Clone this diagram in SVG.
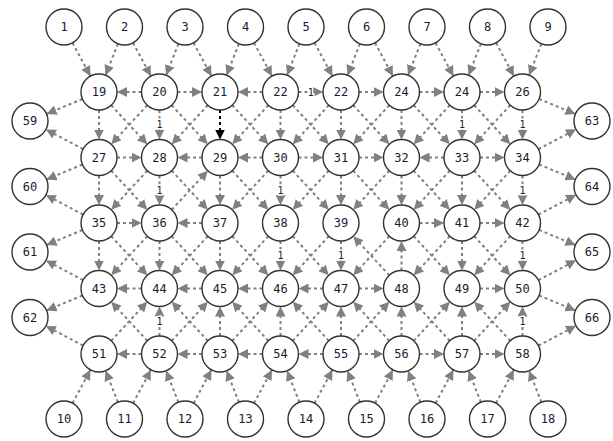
<svg xmlns="http://www.w3.org/2000/svg" width="613" height="441" viewBox="0 0 613 441">
<style>
.e{stroke:#808080;stroke-width:2;stroke-dasharray:3 3;fill:none;marker-end:url(#a)}
.k{stroke:#000;marker-end:url(#ak)}
.n circle{fill:#fff;stroke:#333;stroke-width:1.4}
.n text{font-family:"DejaVu Sans Mono","Liberation Mono",monospace;font-size:12px;text-anchor:middle;fill:#1a1a33}
.l{font-family:"DejaVu Sans Mono","Liberation Mono",monospace;font-size:10px;text-anchor:middle;fill:#222;paint-order:stroke;stroke:#fff;stroke-width:3}
</style>
<defs>
<marker id="a" markerUnits="userSpaceOnUse" markerWidth="10" markerHeight="10" refX="10" refY="5" orient="auto" viewBox="0 0 10 10"><path d="M0,0 L10,5 L0,10 z" fill="#808080"/></marker>
<marker id="ak" markerUnits="userSpaceOnUse" markerWidth="10" markerHeight="10" refX="10" refY="5" orient="auto" viewBox="0 0 10 10"><path d="M0,0 L10,5 L0,10 z" fill="#000"/></marker>
</defs>
<g id="connectors">
<!-- top -->
<line class="e" x1="72.53" y1="42.85" x2="90.47" y2="76.15"/>
<line class="e" x1="133.03" y1="42.85" x2="150.97" y2="76.15"/>
<line class="e" x1="193.53" y1="42.85" x2="211.47" y2="76.15"/>
<line class="e" x1="254.03" y1="42.85" x2="271.97" y2="76.15"/>
<line class="e" x1="314.53" y1="42.85" x2="332.47" y2="76.15"/>
<line class="e" x1="375.03" y1="42.85" x2="392.97" y2="76.15"/>
<line class="e" x1="435.53" y1="42.85" x2="453.47" y2="76.15"/>
<line class="e" x1="496.03" y1="42.85" x2="513.97" y2="76.15"/>
<line class="e" x1="117.93" y1="43.76" x2="105.57" y2="75.24"/>
<line class="e" x1="178.43" y1="43.76" x2="166.07" y2="75.24"/>
<line class="e" x1="238.93" y1="43.76" x2="226.57" y2="75.24"/>
<line class="e" x1="299.43" y1="43.76" x2="287.07" y2="75.24"/>
<line class="e" x1="359.93" y1="43.76" x2="347.57" y2="75.24"/>
<line class="e" x1="420.43" y1="43.76" x2="408.07" y2="75.24"/>
<line class="e" x1="480.93" y1="43.76" x2="468.57" y2="75.24"/>
<line class="e" x1="541.43" y1="43.76" x2="529.07" y2="75.24"/>
<!-- bottom -->
<line class="e" x1="72.53" y1="403.15" x2="90.47" y2="369.85"/>
<line class="e" x1="133.03" y1="403.15" x2="150.97" y2="369.85"/>
<line class="e" x1="193.53" y1="403.15" x2="211.47" y2="369.85"/>
<line class="e" x1="254.03" y1="403.15" x2="271.97" y2="369.85"/>
<line class="e" x1="314.53" y1="403.15" x2="332.47" y2="369.85"/>
<line class="e" x1="375.03" y1="403.15" x2="392.97" y2="369.85"/>
<line class="e" x1="435.53" y1="403.15" x2="453.47" y2="369.85"/>
<line class="e" x1="496.03" y1="403.15" x2="513.97" y2="369.85"/>
<line class="e" x1="117.93" y1="402.24" x2="105.57" y2="370.76"/>
<line class="e" x1="178.43" y1="402.24" x2="166.07" y2="370.76"/>
<line class="e" x1="238.93" y1="402.24" x2="226.57" y2="370.76"/>
<line class="e" x1="299.43" y1="402.24" x2="287.07" y2="370.76"/>
<line class="e" x1="359.93" y1="402.24" x2="347.57" y2="370.76"/>
<line class="e" x1="420.43" y1="402.24" x2="408.07" y2="370.76"/>
<line class="e" x1="480.93" y1="402.24" x2="468.57" y2="370.76"/>
<line class="e" x1="541.43" y1="402.24" x2="529.07" y2="370.76"/>
<!-- horizontal R1 -->
<line class="e" x1="141.5" y1="92" x2="117" y2="92"/>
<line class="e" x1="177.5" y1="92" x2="202" y2="92"/>
<line class="e" x1="262.5" y1="92" x2="238" y2="92"/>
<line class="e" x1="298.5" y1="92" x2="323" y2="92"/>
<line class="e" x1="359" y1="92" x2="383.5" y2="92"/>
<line class="e" x1="419.5" y1="92" x2="444" y2="92"/>
<line class="e" x1="480" y1="92" x2="504.5" y2="92"/>
<!-- R2 -->
<line class="e" x1="117" y1="157.5" x2="141.5" y2="157.5"/>
<line class="e" x1="202" y1="157.5" x2="177.5" y2="157.5"/>
<line class="e" x1="262.5" y1="157.5" x2="238" y2="157.5"/>
<line class="e" x1="298.5" y1="157.5" x2="323" y2="157.5"/>
<line class="e" x1="359" y1="157.5" x2="383.5" y2="157.5"/>
<line class="e" x1="444" y1="157.5" x2="419.5" y2="157.5"/>
<line class="e" x1="480" y1="157.5" x2="504.5" y2="157.5"/>
<!-- R3 -->
<line class="e" x1="117" y1="223" x2="141.5" y2="223"/>
<line class="e" x1="202" y1="223" x2="177.5" y2="223"/>
<line class="e" x1="419.5" y1="223" x2="444" y2="223"/>
<line class="e" x1="480" y1="223" x2="504.5" y2="223"/>
<!-- R4 -->
<line class="e" x1="141.5" y1="288.5" x2="117" y2="288.5"/>
<line class="e" x1="202" y1="288.5" x2="177.5" y2="288.5"/>
<line class="e" x1="262.5" y1="288.5" x2="238" y2="288.5"/>
<line class="e" x1="323" y1="288.5" x2="298.5" y2="288.5"/>
<line class="e" x1="359" y1="288.5" x2="383.5" y2="288.5"/>
<line class="e" x1="480" y1="288.5" x2="504.5" y2="288.5"/>
<!-- R5 -->
<line class="e" x1="141.5" y1="354" x2="117" y2="354"/>
<line class="e" x1="202" y1="354" x2="177.5" y2="354"/>
<line class="e" x1="262.5" y1="354" x2="238" y2="354"/>
<line class="e" x1="323" y1="354" x2="298.5" y2="354"/>
<line class="e" x1="359" y1="354" x2="383.5" y2="354"/>
<line class="e" x1="419.5" y1="354" x2="444" y2="354"/>
<line class="e" x1="480" y1="354" x2="504.5" y2="354"/>
<!-- vertical R1-R2 -->
<line class="e" x1="99" y1="110" x2="99" y2="139.5"/>
<line class="e" x1="159.5" y1="110" x2="159.5" y2="139.5"/>
<line class="e k" x1="220" y1="110" x2="220" y2="139.5"/>
<line class="e" x1="280.5" y1="110" x2="280.5" y2="139.5"/>
<line class="e" x1="341" y1="110" x2="341" y2="139.5"/>
<line class="e" x1="401.5" y1="110" x2="401.5" y2="139.5"/>
<line class="e" x1="462" y1="110" x2="462" y2="139.5"/>
<line class="e" x1="522.5" y1="110" x2="522.5" y2="139.5"/>
<!-- R2-R3 -->
<line class="e" x1="99" y1="175.5" x2="99" y2="205"/>
<line class="e" x1="159.5" y1="175.5" x2="159.5" y2="205"/>
<line class="e" x1="220" y1="175.5" x2="220" y2="205"/>
<line class="e" x1="280.5" y1="175.5" x2="280.5" y2="205"/>
<line class="e" x1="341" y1="175.5" x2="341" y2="205"/>
<line class="e" x1="401.5" y1="175.5" x2="401.5" y2="205"/>
<line class="e" x1="462" y1="175.5" x2="462" y2="205"/>
<line class="e" x1="522.5" y1="175.5" x2="522.5" y2="205"/>
<!-- R3-R4 -->
<line class="e" x1="99" y1="241" x2="99" y2="270.5"/>
<line class="e" x1="159.5" y1="241" x2="159.5" y2="270.5"/>
<line class="e" x1="220" y1="241" x2="220" y2="270.5"/>
<line class="e" x1="280.5" y1="241" x2="280.5" y2="270.5"/>
<line class="e" x1="341" y1="241" x2="341" y2="270.5"/>
<line class="e" x1="401.5" y1="270.5" x2="401.5" y2="241"/>
<line class="e" x1="462" y1="241" x2="462" y2="270.5"/>
<line class="e" x1="522.5" y1="241" x2="522.5" y2="270.5"/>
<!-- R4-R5 (up) -->
<line class="e" x1="159.5" y1="336" x2="159.5" y2="306.5"/>
<line class="e" x1="220" y1="336" x2="220" y2="306.5"/>
<line class="e" x1="280.5" y1="336" x2="280.5" y2="306.5"/>
<line class="e" x1="341" y1="336" x2="341" y2="306.5"/>
<line class="e" x1="401.5" y1="336" x2="401.5" y2="306.5"/>
<line class="e" x1="462" y1="336" x2="462" y2="306.5"/>
<line class="e" x1="522.5" y1="336" x2="522.5" y2="306.5"/>
<!-- diagonals R1-R2 -->
<line class="e" x1="111.21" y1="105.22" x2="147.29" y2="144.28"/>
<line class="e" x1="171.71" y1="105.22" x2="207.79" y2="144.28"/>
<line class="e" x1="232.21" y1="105.22" x2="268.29" y2="144.28"/>
<line class="e" x1="292.71" y1="105.22" x2="328.79" y2="144.28"/>
<line class="e" x1="353.21" y1="105.22" x2="389.29" y2="144.28"/>
<line class="e" x1="413.71" y1="105.22" x2="449.79" y2="144.28"/>
<line class="e" x1="474.21" y1="105.22" x2="510.29" y2="144.28"/>
<line class="e" x1="147.29" y1="105.22" x2="111.21" y2="144.28"/>
<line class="e" x1="207.79" y1="105.22" x2="171.71" y2="144.28"/>
<line class="e" x1="268.29" y1="105.22" x2="232.21" y2="144.28"/>
<line class="e" x1="328.79" y1="105.22" x2="292.71" y2="144.28"/>
<line class="e" x1="389.29" y1="105.22" x2="353.21" y2="144.28"/>
<line class="e" x1="449.79" y1="105.22" x2="413.71" y2="144.28"/>
<line class="e" x1="510.29" y1="105.22" x2="474.21" y2="144.28"/>
<!-- diagonals R2-R3 -->
<line class="e" x1="111.21" y1="170.72" x2="147.29" y2="209.78"/>
<line class="e" x1="171.71" y1="170.72" x2="207.79" y2="209.78"/>
<line class="e" x1="232.21" y1="170.72" x2="268.29" y2="209.78"/>
<line class="e" x1="292.71" y1="170.72" x2="328.79" y2="209.78"/>
<line class="e" x1="353.21" y1="170.72" x2="389.29" y2="209.78"/>
<line class="e" x1="413.71" y1="170.72" x2="449.79" y2="209.78"/>
<line class="e" x1="474.21" y1="170.72" x2="510.29" y2="209.78"/>
<line class="e" x1="147.29" y1="170.72" x2="111.21" y2="209.78"/>
<line class="e" x1="171.71" y1="209.78" x2="207.79" y2="170.72"/>
<line class="e" x1="268.29" y1="170.72" x2="232.21" y2="209.78"/>
<line class="e" x1="328.79" y1="170.72" x2="292.71" y2="209.78"/>
<line class="e" x1="389.29" y1="170.72" x2="353.21" y2="209.78"/>
<line class="e" x1="449.79" y1="170.72" x2="413.71" y2="209.78"/>
<line class="e" x1="510.29" y1="170.72" x2="474.21" y2="209.78"/>
<!-- diagonals R3-R4 -->
<line class="e" x1="111.21" y1="236.22" x2="147.29" y2="275.28"/>
<line class="e" x1="171.71" y1="236.22" x2="207.79" y2="275.28"/>
<line class="e" x1="232.21" y1="236.22" x2="268.29" y2="275.28"/>
<line class="e" x1="292.71" y1="236.22" x2="328.79" y2="275.28"/>
<line class="e" x1="389.29" y1="275.28" x2="353.21" y2="236.22"/>
<line class="e" x1="413.71" y1="236.22" x2="449.79" y2="275.28"/>
<line class="e" x1="474.21" y1="236.22" x2="510.29" y2="275.28"/>
<line class="e" x1="147.29" y1="236.22" x2="111.21" y2="275.28"/>
<line class="e" x1="207.79" y1="236.22" x2="171.71" y2="275.28"/>
<line class="e" x1="268.29" y1="236.22" x2="232.21" y2="275.28"/>
<line class="e" x1="328.79" y1="236.22" x2="292.71" y2="275.28"/>
<line class="e" x1="389.29" y1="236.22" x2="353.21" y2="275.28"/>
<line class="e" x1="449.79" y1="236.22" x2="413.71" y2="275.28"/>
<line class="e" x1="510.29" y1="236.22" x2="474.21" y2="275.28"/>
<!-- diagonals R4-R5 (up) -->
<line class="e" x1="147.29" y1="340.78" x2="111.21" y2="301.72"/>
<line class="e" x1="207.79" y1="340.78" x2="171.71" y2="301.72"/>
<line class="e" x1="268.29" y1="340.78" x2="232.21" y2="301.72"/>
<line class="e" x1="328.79" y1="340.78" x2="292.71" y2="301.72"/>
<line class="e" x1="389.29" y1="340.78" x2="353.21" y2="301.72"/>
<line class="e" x1="449.79" y1="340.78" x2="413.71" y2="301.72"/>
<line class="e" x1="510.29" y1="340.78" x2="474.21" y2="301.72"/>
<line class="e" x1="111.21" y1="340.78" x2="147.29" y2="301.72"/>
<line class="e" x1="171.71" y1="340.78" x2="207.79" y2="301.72"/>
<line class="e" x1="232.21" y1="340.78" x2="268.29" y2="301.72"/>
<line class="e" x1="292.71" y1="340.78" x2="328.79" y2="301.72"/>
<line class="e" x1="353.21" y1="340.78" x2="389.29" y2="301.72"/>
<line class="e" x1="413.71" y1="340.78" x2="449.79" y2="301.72"/>
<line class="e" x1="474.21" y1="340.78" x2="510.29" y2="301.72"/>
<!-- left side -->
<line class="e" x1="82.41" y1="98.97" x2="46.59" y2="114.03"/>
<line class="e" x1="83.09" y1="149.08" x2="45.91" y2="129.42"/>
<line class="e" x1="82.41" y1="164.47" x2="46.59" y2="179.53"/>
<line class="e" x1="83.09" y1="214.58" x2="45.91" y2="194.92"/>
<line class="e" x1="82.41" y1="229.97" x2="46.59" y2="245.03"/>
<line class="e" x1="83.09" y1="280.08" x2="45.91" y2="260.42"/>
<line class="e" x1="82.41" y1="295.47" x2="46.59" y2="310.53"/>
<line class="e" x1="83.09" y1="345.58" x2="45.91" y2="325.92"/>
<!-- right side -->
<line class="e" x1="539.11" y1="98.93" x2="575.39" y2="114.07"/>
<line class="e" x1="538.44" y1="149.13" x2="576.06" y2="129.37"/>
<line class="e" x1="539.11" y1="164.43" x2="575.39" y2="179.57"/>
<line class="e" x1="538.44" y1="214.63" x2="576.06" y2="194.87"/>
<line class="e" x1="539.11" y1="229.93" x2="575.39" y2="245.07"/>
<line class="e" x1="538.44" y1="280.13" x2="576.06" y2="260.37"/>
<line class="e" x1="539.11" y1="295.43" x2="575.39" y2="310.57"/>
<line class="e" x1="538.44" y1="345.63" x2="576.06" y2="325.87"/>
<!-- labels -->
<text class="l" x="310.75" y="95.5">1</text>
<text class="l" x="159.5" y="128.25">1</text>
<text class="l" x="462" y="128.25">1</text>
<text class="l" x="522.5" y="128.25">1</text>
<text class="l" x="159.5" y="193.75">1</text>
<text class="l" x="280.5" y="193.75">1</text>
<text class="l" x="522.5" y="193.75">1</text>
<text class="l" x="280.5" y="259.25">1</text>
<text class="l" x="341" y="259.25">1</text>
<text class="l" x="522.5" y="259.25">1</text>
<text class="l" x="159.5" y="324.75">1</text>
<text class="l" x="522.5" y="324.75">1</text>
</g>
<g id="n1" class="n"><circle cx="64" cy="27" r="18"/><text x="64" y="31">1</text></g>
<g id="n2" class="n"><circle cx="124.5" cy="27" r="18"/><text x="124.5" y="31">2</text></g>
<g id="n3" class="n"><circle cx="185" cy="27" r="18"/><text x="185" y="31">3</text></g>
<g id="n4" class="n"><circle cx="245.5" cy="27" r="18"/><text x="245.5" y="31">4</text></g>
<g id="n5" class="n"><circle cx="306" cy="27" r="18"/><text x="306" y="31">5</text></g>
<g id="n6" class="n"><circle cx="366.5" cy="27" r="18"/><text x="366.5" y="31">6</text></g>
<g id="n7" class="n"><circle cx="427" cy="27" r="18"/><text x="427" y="31">7</text></g>
<g id="n8" class="n"><circle cx="487.5" cy="27" r="18"/><text x="487.5" y="31">8</text></g>
<g id="n9" class="n"><circle cx="548" cy="27" r="18"/><text x="548" y="31">9</text></g>
<g id="n19" class="n"><circle cx="99" cy="92" r="18"/><text x="99" y="96">19</text></g>
<g id="n20" class="n"><circle cx="159.5" cy="92" r="18"/><text x="159.5" y="96">20</text></g>
<g id="n21" class="n"><circle cx="220" cy="92" r="18"/><text x="220" y="96">21</text></g>
<g id="n22a" class="n"><circle cx="280.5" cy="92" r="18"/><text x="280.5" y="96">22</text></g>
<g id="n22b" class="n"><circle cx="341" cy="92" r="18"/><text x="341" y="96">22</text></g>
<g id="n24a" class="n"><circle cx="401.5" cy="92" r="18"/><text x="401.5" y="96">24</text></g>
<g id="n24b" class="n"><circle cx="462" cy="92" r="18"/><text x="462" y="96">24</text></g>
<g id="n26" class="n"><circle cx="522.5" cy="92" r="18"/><text x="522.5" y="96">26</text></g>
<g id="n27" class="n"><circle cx="99" cy="157.5" r="18"/><text x="99" y="161.5">27</text></g>
<g id="n28" class="n"><circle cx="159.5" cy="157.5" r="18"/><text x="159.5" y="161.5">28</text></g>
<g id="n29" class="n"><circle cx="220" cy="157.5" r="18"/><text x="220" y="161.5">29</text></g>
<g id="n30" class="n"><circle cx="280.5" cy="157.5" r="18"/><text x="280.5" y="161.5">30</text></g>
<g id="n31" class="n"><circle cx="341" cy="157.5" r="18"/><text x="341" y="161.5">31</text></g>
<g id="n32" class="n"><circle cx="401.5" cy="157.5" r="18"/><text x="401.5" y="161.5">32</text></g>
<g id="n33" class="n"><circle cx="462" cy="157.5" r="18"/><text x="462" y="161.5">33</text></g>
<g id="n34" class="n"><circle cx="522.5" cy="157.5" r="18"/><text x="522.5" y="161.5">34</text></g>
<g id="n35" class="n"><circle cx="99" cy="223" r="18"/><text x="99" y="227">35</text></g>
<g id="n36" class="n"><circle cx="159.5" cy="223" r="18"/><text x="159.5" y="227">36</text></g>
<g id="n37" class="n"><circle cx="220" cy="223" r="18"/><text x="220" y="227">37</text></g>
<g id="n38" class="n"><circle cx="280.5" cy="223" r="18"/><text x="280.5" y="227">38</text></g>
<g id="n39" class="n"><circle cx="341" cy="223" r="18"/><text x="341" y="227">39</text></g>
<g id="n40" class="n"><circle cx="401.5" cy="223" r="18"/><text x="401.5" y="227">40</text></g>
<g id="n41" class="n"><circle cx="462" cy="223" r="18"/><text x="462" y="227">41</text></g>
<g id="n42" class="n"><circle cx="522.5" cy="223" r="18"/><text x="522.5" y="227">42</text></g>
<g id="n43" class="n"><circle cx="99" cy="288.5" r="18"/><text x="99" y="292.5">43</text></g>
<g id="n44" class="n"><circle cx="159.5" cy="288.5" r="18"/><text x="159.5" y="292.5">44</text></g>
<g id="n45" class="n"><circle cx="220" cy="288.5" r="18"/><text x="220" y="292.5">45</text></g>
<g id="n46" class="n"><circle cx="280.5" cy="288.5" r="18"/><text x="280.5" y="292.5">46</text></g>
<g id="n47" class="n"><circle cx="341" cy="288.5" r="18"/><text x="341" y="292.5">47</text></g>
<g id="n48" class="n"><circle cx="401.5" cy="288.5" r="18"/><text x="401.5" y="292.5">48</text></g>
<g id="n49" class="n"><circle cx="462" cy="288.5" r="18"/><text x="462" y="292.5">49</text></g>
<g id="n50" class="n"><circle cx="522.5" cy="288.5" r="18"/><text x="522.5" y="292.5">50</text></g>
<g id="n51" class="n"><circle cx="99" cy="354" r="18"/><text x="99" y="358">51</text></g>
<g id="n52" class="n"><circle cx="159.5" cy="354" r="18"/><text x="159.5" y="358">52</text></g>
<g id="n53" class="n"><circle cx="220" cy="354" r="18"/><text x="220" y="358">53</text></g>
<g id="n54" class="n"><circle cx="280.5" cy="354" r="18"/><text x="280.5" y="358">54</text></g>
<g id="n55" class="n"><circle cx="341" cy="354" r="18"/><text x="341" y="358">55</text></g>
<g id="n56" class="n"><circle cx="401.5" cy="354" r="18"/><text x="401.5" y="358">56</text></g>
<g id="n57" class="n"><circle cx="462" cy="354" r="18"/><text x="462" y="358">57</text></g>
<g id="n58" class="n"><circle cx="522.5" cy="354" r="18"/><text x="522.5" y="358">58</text></g>
<g id="n10" class="n"><circle cx="64" cy="419" r="18"/><text x="64" y="423">10</text></g>
<g id="n11" class="n"><circle cx="124.5" cy="419" r="18"/><text x="124.5" y="423">11</text></g>
<g id="n12" class="n"><circle cx="185" cy="419" r="18"/><text x="185" y="423">12</text></g>
<g id="n13" class="n"><circle cx="245.5" cy="419" r="18"/><text x="245.5" y="423">13</text></g>
<g id="n14" class="n"><circle cx="306" cy="419" r="18"/><text x="306" y="423">14</text></g>
<g id="n15" class="n"><circle cx="366.5" cy="419" r="18"/><text x="366.5" y="423">15</text></g>
<g id="n16" class="n"><circle cx="427" cy="419" r="18"/><text x="427" y="423">16</text></g>
<g id="n17" class="n"><circle cx="487.5" cy="419" r="18"/><text x="487.5" y="423">17</text></g>
<g id="n18" class="n"><circle cx="548" cy="419" r="18"/><text x="548" y="423">18</text></g>
<g id="n59" class="n"><circle cx="30" cy="121" r="18"/><text x="30" y="125">59</text></g>
<g id="n60" class="n"><circle cx="30" cy="186.5" r="18"/><text x="30" y="190.5">60</text></g>
<g id="n61" class="n"><circle cx="30" cy="252" r="18"/><text x="30" y="256">61</text></g>
<g id="n62" class="n"><circle cx="30" cy="317.5" r="18"/><text x="30" y="321.5">62</text></g>
<g id="n63" class="n"><circle cx="592" cy="121" r="18"/><text x="592" y="125">63</text></g>
<g id="n64" class="n"><circle cx="592" cy="186.5" r="18"/><text x="592" y="190.5">64</text></g>
<g id="n65" class="n"><circle cx="592" cy="252" r="18"/><text x="592" y="256">65</text></g>
<g id="n66" class="n"><circle cx="592" cy="317.5" r="18"/><text x="592" y="321.5">66</text></g>
</svg>
